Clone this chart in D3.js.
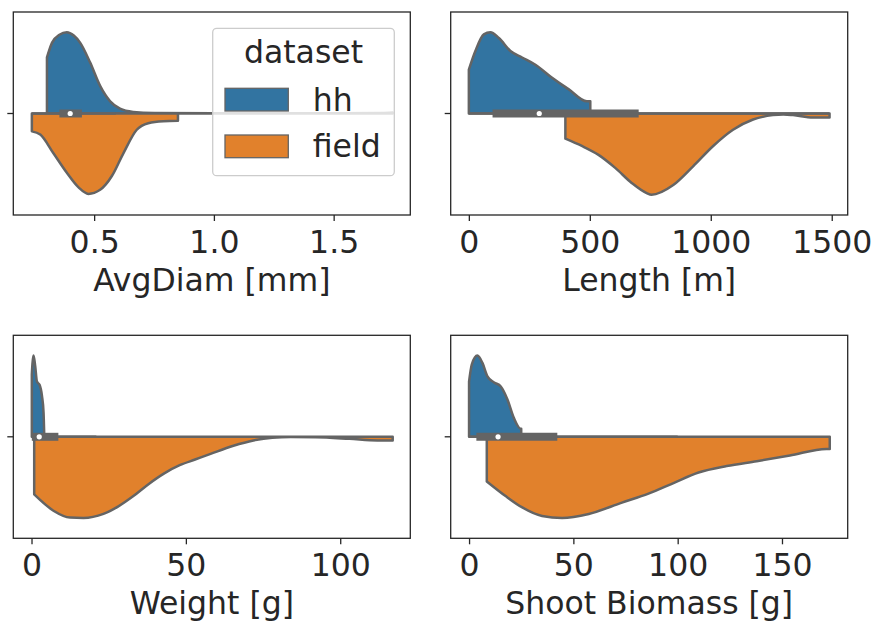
<!DOCTYPE html>
<html>
<head>
<meta charset="utf-8">
<script src="https://cdn.jsdelivr.net/npm/d3@7"></script>
<style>
  body { margin: 0; background: #fff; }
  svg { display: block; }
  text { font-family: "DejaVu Sans", sans-serif; fill: #262626; }
</style>
</head>
<body>
<div id="chart"></div>
<script>
// density outlines: [value, density relative to its own peak]
const diamHH = [[0.303, 0.69], [0.324, 0.87], [0.355, 0.97], [0.386, 1.0], [0.415, 0.96], [0.442, 0.87],
  [0.483, 0.63], [0.525, 0.34], [0.567, 0.15], [0.608, 0.06], [0.663, 0.02], [0.75, 0.006],
  [1.0, 0.003], [1.5, 0.003], [1.70, 0.006], [1.746, 0.012]];
const diamField = [[0.24, 0.22], [0.275, 0.26], [0.33, 0.49], [0.386, 0.73], [0.435, 0.91], [0.476, 0.99],
  [0.525, 0.94], [0.574, 0.77], [0.622, 0.49], [0.678, 0.2], [0.726, 0.12], [0.789, 0.095], [0.85, 0.09]];

const lengthHH = [[0, 0.54], [27, 0.77], [62, 0.975], [89, 1.0], [124, 0.93], [172, 0.77], [220, 0.69],
  [275, 0.6], [344, 0.44], [412, 0.3], [488, 0.15], [502, 0.15]];
const lengthField = [[399, 0.31], [467, 0.4], [536, 0.51], [605, 0.67], [673, 0.855], [735, 0.98], [755, 1.0],
  [845, 0.88], [927, 0.65], [1010, 0.4], [1092, 0.2], [1175, 0.074], [1257, 0.02], [1300, 0.012],
  [1340, 0.02], [1422, 0.05], [1491, 0.05]];

const weightHH = [[0.1, 0.77], [0.3, 0.9], [0.65, 1.0], [1.2, 0.87], [1.75, 0.68], [2.6, 0.64],
  [3.4, 0.5], [3.9, 0.3], [4.1, 0.05]];
const weightField = [[0.87, 0.71], [7.1, 0.91], [12.5, 0.995], [16.8, 1.0], [23.3, 0.95], [28, 0.86],
  [33, 0.73], [38, 0.58], [43, 0.45], [48, 0.35], [53, 0.28], [58, 0.21], [65.4, 0.11],
  [71.9, 0.045], [78, 0.012], [84, 0.004], [92, 0.006], [103, 0.025], [112, 0.045], [117, 0.045]];

const shootHH = [[0, 0.68], [1.3, 0.89], [4.0, 1.0], [6.4, 0.91], [8.8, 0.745], [12, 0.67], [15.2, 0.62],
  [18.4, 0.46], [21.5, 0.23], [24.7, 0.1], [25, 0.1]];
const shootField = [[8.5, 0.55], [17.5, 0.73], [25.5, 0.87], [35, 0.975], [44.6, 1.0], [57.4, 0.95],
  [73.3, 0.81], [86, 0.7], [98, 0.57], [110, 0.44], [123.5, 0.36], [137.9, 0.3], [153.8, 0.23],
  [171.3, 0.15], [172.9, 0.15]];

// inner box: [whisker low, q1, median, q3, whisker high]
const diamBox = [0.24, 0.355, 0.40, 0.449, 0.59];
const lengthBox = [0, 98, 291, 702, 1490];
const weightBox = [0.1, 0.1, 2.5, 8.7, 21];
const shootBox = [0, 3.5, 13.9, 42.3, 100];

const axisLabels = ['AvgDiam [mm]', 'Length [m]', 'Weight [g]', 'Shoot Biomass [g]'];
const xDomains = [[0.1625, 1.82], [-75, 1566], [-5.9, 122.7], [-8.8, 181.5]];
const xTicks = [[0.5, 1.0, 1.5], [0, 500, 1000, 1500], [0, 50, 100], [0, 50, 100, 150]];
const tickFormats = ['.1f', 'd', 'd', 'd'];

const datasets = ['hh', 'field'];
const colors = { hh: '#3274a1', field: '#e1812c' };
const gray = '#646464';
const fontSize = 31.5;

const width = 874;
const height = 621;
const cols = [13.3, 450.7];
const rows = [12, 335.3];
const panelW = 397;
const panelH = 203;

const panels = [
  { hh: diamHH, field: diamField, box: diamBox },
  { hh: lengthHH, field: lengthField, box: lengthBox },
  { hh: weightHH, field: weightField, box: weightBox },
  { hh: shootHH, field: shootField, box: shootBox }
];

const svg = d3.select('#chart').append('svg').attr('width', width).attr('height', height);

panels.forEach((p, i) => {
  const g = svg.append('g')
    .attr('transform', `translate(${cols[i % 2]},${rows[Math.floor(i / 2)]})`);

  const x = d3.scaleLinear().domain(xDomains[i]).range([0, panelW]);
  // one category at 0, axis spans -0.5..0.5, violin half width 0.4
  const y = d3.scaleLinear().domain([-0.5, 0.5]).range([0, panelH]);

  const upper = d3.area()
    .x((d) => x(d[0]))
    .y0(y(0))
    .y1((d) => y(-0.4 * d[1]))
    .curve(d3.curveMonotoneX);
  const lower = d3.area()
    .x((d) => x(d[0]))
    .y0(y(0))
    .y1((d) => y(0.4 * d[1]))
    .curve(d3.curveMonotoneX);

  g.append('path')
    .attr('d', upper(p.hh))
    .attr('fill', colors.hh)
    .attr('stroke', gray)
    .attr('stroke-width', 2.5)
    .attr('stroke-linejoin', 'round');
  g.append('path')
    .attr('d', lower(p.field))
    .attr('fill', colors.field)
    .attr('stroke', gray)
    .attr('stroke-width', 2.5)
    .attr('stroke-linejoin', 'round');

  // inner box
  const [lo, q1, med, q3, hi] = p.box;
  g.append('line')
    .attr('x1', x(lo)).attr('x2', x(hi))
    .attr('y1', y(0)).attr('y2', y(0))
    .attr('stroke', gray).attr('stroke-width', 2.5);
  g.append('line')
    .attr('x1', x(q1)).attr('x2', x(q3))
    .attr('y1', y(0)).attr('y2', y(0))
    .attr('stroke', gray).attr('stroke-width', 8);
  g.append('circle')
    .attr('cx', x(med)).attr('cy', y(0)).attr('r', 2.6)
    .attr('fill', '#fff');

  // frame
  g.append('rect')
    .attr('width', panelW).attr('height', panelH)
    .attr('fill', 'none').attr('stroke', '#262626').attr('stroke-width', 1.3);

  // x axis
  const xAxis = g.append('g')
    .attr('transform', `translate(0,${panelH})`)
    .call(d3.axisBottom(x).tickValues(xTicks[i]).tickFormat(d3.format(tickFormats[i])).tickSize(6).tickPadding(9.5));
  xAxis.select('.domain').remove();
  xAxis.selectAll('.tick line').attr('stroke', '#262626').attr('stroke-width', 1.3);
  xAxis.selectAll('.tick text')
    .attr('font-size', fontSize).attr('font-family', '"DejaVu Sans", sans-serif')
    .attr('fill', '#262626');

  // single unlabeled y tick
  g.append('line')
    .attr('x1', -6).attr('x2', 0)
    .attr('y1', y(0)).attr('y2', y(0))
    .attr('stroke', '#262626').attr('stroke-width', 1.3);

  g.append('text')
    .attr('x', panelW / 2)
    .attr('y', panelH + 76)
    .attr('text-anchor', 'middle')
    .attr('font-size', fontSize)
    .text(axisLabels[i]);

  // legend in the first panel
  if (i === 0) {
    const lg = g.append('g').attr('transform', `translate(${212.7 - cols[0]},${28.3 - rows[0]})`);
    lg.append('rect')
      .attr('width', 181.6).attr('height', 147.4)
      .attr('rx', 4)
      .attr('fill', '#fff').attr('fill-opacity', 0.8)
      .attr('stroke', '#cccccc').attr('stroke-width', 1.3);
    lg.append('text')
      .attr('x', 90.8).attr('y', 35)
      .attr('text-anchor', 'middle')
      .attr('font-size', fontSize)
      .text('dataset');
    datasets.forEach((name, k) => {
      lg.append('rect')
        .attr('x', 12.3).attr('y', 60 + k * 46.7)
        .attr('width', 63.3).attr('height', 22.7)
        .attr('fill', colors[name])
        .attr('stroke', gray).attr('stroke-width', 1.3);
      lg.append('text')
        .attr('x', 100).attr('y', 82.5 + k * 46.7)
        .attr('font-size', fontSize)
        .text(name);
    });
  }
});
</script>
</body>
</html>
